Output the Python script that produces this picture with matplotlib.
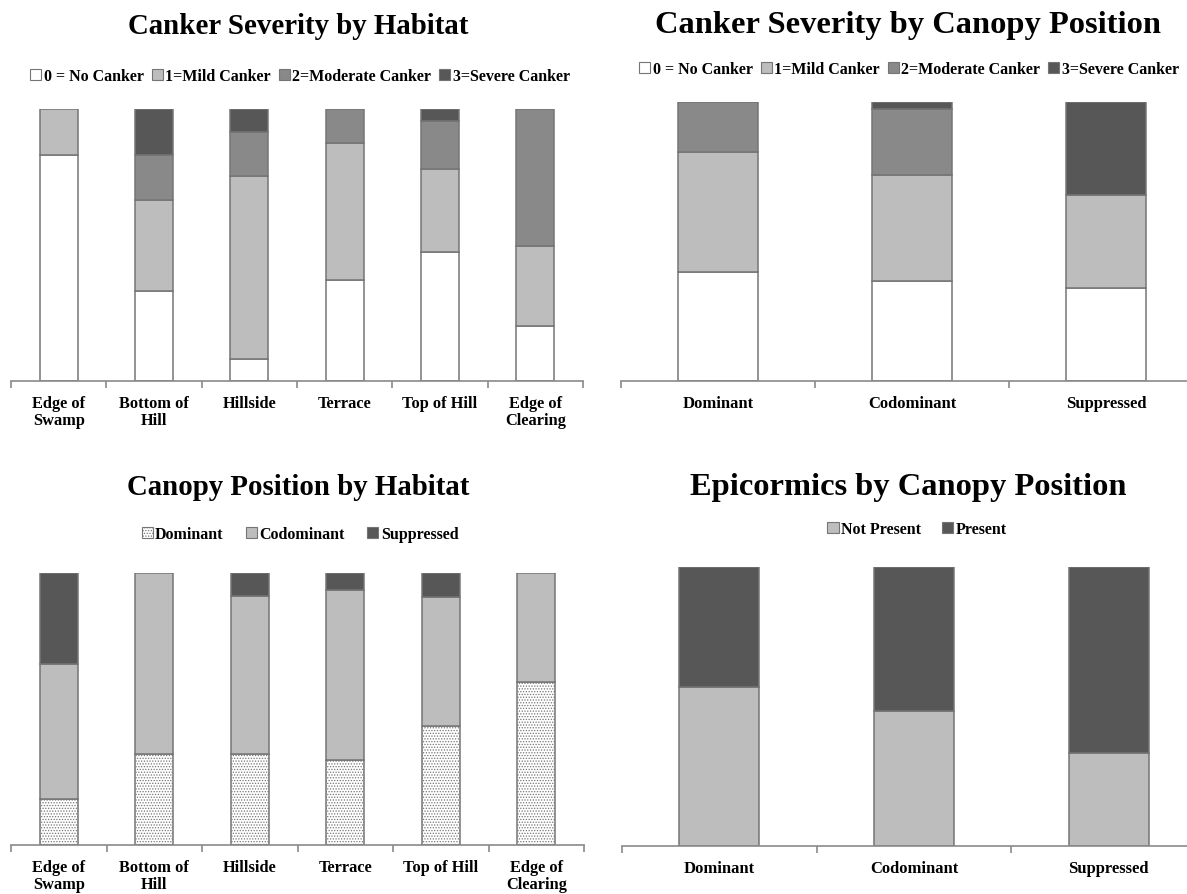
import matplotlib.pyplot as plt
from matplotlib.patches import Patch
import numpy as np

plt.rcParams['font.family'] = ['Liberation Serif', 'DejaVu Serif']
plt.rcParams['font.weight'] = 'bold'
plt.rcParams['hatch.color'] = '#8a8a8a'
plt.rcParams['hatch.linewidth'] = 0.6

# Data (proportions)
habitats = ['Edge of\nSwamp', 'Bottom of\nHill', 'Hillside', 'Terrace', 'Top of Hill', 'Edge of\nClearing']
positions = ['Dominant', 'Codominant', 'Suppressed']
severity_labels = ['0 = No Canker', '1=Mild Canker', '2=Moderate Canker', '3=Severe Canker']
canopy_labels = ['Dominant', 'Codominant', 'Suppressed']
epi_labels = ['Not Present', 'Present']

hab_no = [0.832, 0.330, 0.082, 0.373, 0.476, 0.202]
hab_mild = [0.168, 0.335, 0.670, 0.503, 0.304, 0.296]
hab_mod = [0.0, 0.166, 0.163, 0.124, 0.176, 0.502]
hab_sev = [0.0, 0.168, 0.086, 0.0, 0.044, 0.0]

pos_no = [0.392, 0.360, 0.334]
pos_mild = [0.428, 0.378, 0.331]
pos_mod = [0.180, 0.238, 0.0]
pos_sev = [0.0, 0.024, 0.335]

hab_dom = [0.168, 0.334, 0.334, 0.314, 0.437, 0.601]
hab_codom = [0.496, 0.666, 0.582, 0.622, 0.476, 0.399]
hab_supp = [0.336, 0.0, 0.085, 0.064, 0.087, 0.0]

epi_not = [0.569, 0.484, 0.332]
epi_present = [0.431, 0.516, 0.668]

W, H = 1187, 895
fig = plt.figure(figsize=(W / 100, H / 100), dpi=100)

EDGE = '#757575'
WHITE, LIGHT, MID, DARK = '#ffffff', '#bdbdbd', '#898989', '#575757'
LEGEND_FS = 11.5


def make_ax(left, right, top, bottom):
    return fig.add_axes([left / W, 1 - bottom / H, (right - left) / W, (bottom - top) / H])


def stacked(ax, cats, series, colors, hatches, width, label_fs):
    x = np.arange(len(cats))
    base = np.zeros(len(cats))
    for vals, c, h in zip(series, colors, hatches):
        vals = np.array(vals)
        lw = np.where(vals > 0, 1.1, 0.0)
        ax.bar(x, vals, width, bottom=base, color=c, edgecolor=EDGE, linewidth=lw, hatch=h)
        base += vals
    ax.set_xlim(-0.5, len(cats) - 0.5)
    ax.set_ylim(0, 1)
    for s in ['top', 'right', 'left']:
        ax.spines[s].set_visible(False)
    ax.spines['bottom'].set_color('#8a8a8a')
    ax.spines['bottom'].set_linewidth(1.2)
    ax.set_yticks([])
    ax.set_xticks(x)
    ax.set_xticklabels(cats, fontsize=label_fs, fontweight='bold', linespacing=1.1)
    ax.tick_params(axis='x', which='major', length=0, pad=10)
    ax.set_xticks(np.arange(len(cats) + 1) - 0.5, minor=True)
    ax.tick_params(axis='x', which='minor', length=5, color='#8a8a8a', width=1.2)


def legend(labels, colors, hatches, cx, cy, spacing):
    handles = [Patch(facecolor=c, edgecolor=EDGE, hatch=h, linewidth=0.8) for c, h in zip(colors, hatches)]
    fig.legend(handles, labels, loc='center', bbox_to_anchor=(cx / W, 1 - cy / H), ncol=len(labels),
               frameon=False, fontsize=LEGEND_FS, handlelength=0.7, handleheight=0.7,
               handletextpad=0.15, columnspacing=spacing, borderaxespad=0)


# Canker severity by habitat
ax1 = make_ax(11, 583, 110, 382)
stacked(ax1, habitats, [hab_no, hab_mild, hab_mod, hab_sev], [WHITE, LIGHT, MID, DARK], [None] * 4, 0.4, 11.8)
fig.text(298 / W, 1 - 26 / H, 'Canker Severity by Habitat', ha='center', va='center', fontsize=20.8, fontweight='bold')
legend(severity_labels, [WHITE, LIGHT, MID, DARK], [None] * 4, 300, 77, 0.5)

# Canker severity by canopy position (axis runs off the right edge, as in the source)
ax2 = make_ax(621, 1203, 103, 382)
stacked(ax2, positions, [pos_no, pos_mild, pos_mod, pos_sev], [WHITE, LIGHT, MID, DARK], [None] * 4, 0.41, 12)
fig.text(908 / W, 1 - 26 / H, 'Canker Severity by Canopy Position', ha='center', va='center', fontsize=23.4, fontweight='bold')
legend(severity_labels, [WHITE, LIGHT, MID, DARK], [None] * 4, 909, 70, 0.5)

# Canopy position by habitat
ax3 = make_ax(11, 584, 574, 846)
stacked(ax3, habitats, [hab_dom, hab_codom, hab_supp], [WHITE, LIGHT, DARK], ['......', None, None], 0.4, 11.8)
fig.text(298 / W, 1 - 488 / H, 'Canopy Position by Habitat', ha='center', va='center', fontsize=20.8, fontweight='bold')
legend(canopy_labels, [WHITE, LIGHT, DARK], ['......', None, None], 300, 535, 1.4)

# Epicormics by canopy position
ax4 = make_ax(622, 1206, 568, 847)
stacked(ax4, positions, [epi_not, epi_present], [LIGHT, DARK], [None, None], 0.41, 12)
fig.text(908 / W, 1 - 488 / H, 'Epicormics by Canopy Position', ha='center', va='center', fontsize=23.4, fontweight='bold')
legend(epi_labels, [LIGHT, DARK], [None, None], 917, 530, 1.3)

fig.savefig('out.png', dpi=100)
